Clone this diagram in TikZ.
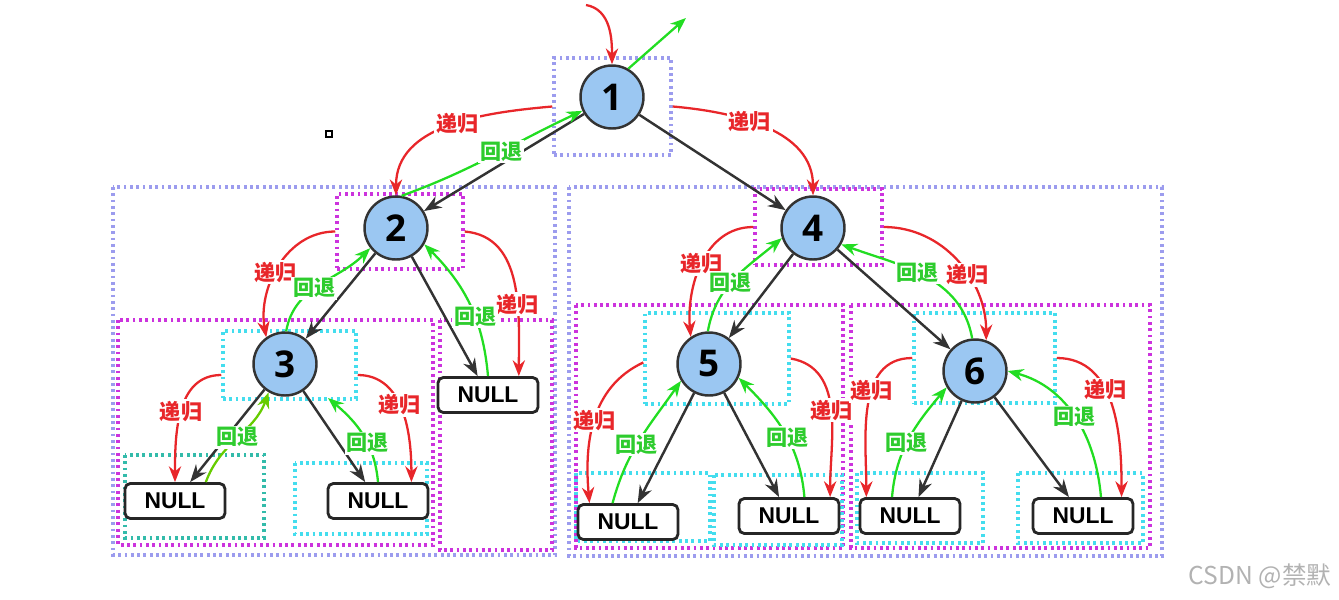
\documentclass[tikz,border=0pt]{standalone}
\usepackage{fontspec}
\setmainfont{Liberation Sans}
\newfontfamily\cjk{Noto Sans CJK SC}
\newfontfamily\numfont{Open Sans}
\usetikzlibrary{arrows.meta,calc}

\definecolor{treeblue}{HTML}{9BC7F2}
\definecolor{recred}{HTML}{E8262A}
\definecolor{backgreen}{HTML}{22DD22}
\definecolor{labgreen}{HTML}{2ECC2E}
\definecolor{olivegreen}{HTML}{66CC00}
\definecolor{lavcol}{HTML}{9C9CEE}
\definecolor{magcol}{HTML}{CC33DD}
\definecolor{cyancol}{HTML}{44DDEE}
\definecolor{tealcol}{HTML}{33BBAA}

\tikzset{
  tnode/.style={circle, draw=black!80, line width=1.4pt, fill=treeblue,
    minimum size=1.26cm, inner sep=0pt, font=\numfont\bfseries\fontsize{21}{21}\selectfont},
  nullbox/.style={rectangle, rounded corners=3pt, draw=black!85, line width=1.6pt,
    fill=white, minimum width=2cm, minimum height=0.7cm, inner sep=0pt,
    font=\bfseries\fontsize{13}{13}\selectfont},
  edge/.style={draw=black!80, line width=1.4pt, -{Stealth[length=10pt,width=7.5pt]}},
  rec/.style={draw=recred, line width=1.3pt, -{Stealth[length=9pt,width=7pt]}},
  back/.style={draw=backgreen, line width=1.3pt, -{Stealth[length=9pt,width=7pt]}},
  rlab/.style={fill=white, inner sep=1pt, text=recred, font=\cjk\bfseries\fontsize{12}{12}\selectfont},
  blab/.style={fill=white, inner sep=1pt, text=labgreen, font=\cjk\bfseries\fontsize{12}{12}\selectfont},
  lavbox/.style={draw=lavcol, line width=2pt, dash pattern=on 1.6pt off 2pt, inner sep=0pt},
  magbox/.style={draw=magcol, line width=2pt, dash pattern=on 1.6pt off 2pt, inner sep=0pt},
  cyanbox/.style={draw=cyancol, line width=2pt, dash pattern=on 1.6pt off 2pt, inner sep=0pt},
  tealbox/.style={draw=tealcol, line width=2pt, dash pattern=on 1.6pt off 2pt, inner sep=0pt}
}

\begin{document}
\begin{tikzpicture}[x=0.02cm,y=0.02cm]
    \useasboundingbox (0,0) rectangle (1339,-599);
    % outer frames
    \draw[lavbox] (113,-187) rectangle (555,-555);
    \draw[lavbox] (569,-187) rectangle (1162,-556);
    \draw[magbox] (118,-320) rectangle (433,-545);
    \draw[magbox] (440,-320) rectangle (552,-550);
    \draw[magbox] (576,-305) rectangle (843,-548);
    \draw[magbox] (851,-305) rectangle (1150,-548);
    % frames round the leaves
    \draw[tealbox] (125,-455) rectangle (264,-538);
    \draw[cyanbox] (295,-463) rectangle (427,-534);
    \draw[cyanbox] (576,-473) rectangle (710,-541);
    \draw[cyanbox] (714,-475) rectangle (842,-545);
    \draw[cyanbox] (857,-473) rectangle (983,-543);
    \draw[cyanbox] (1018,-473) rectangle (1143,-543);
    % frames round the tree nodes
    \node[lavbox, minimum width=2.34cm, minimum height=1.94cm] (f1) at (612.5,-106.5) {};
    \node[magbox, minimum width=2.52cm, minimum height=1.5cm] (f2) at (400,-231.5) {};
    \node[cyanbox, minimum width=2.66cm, minimum height=1.36cm] (f3) at (289.5,-365) {};
    \node[magbox, minimum width=2.54cm, minimum height=1.52cm] (f4) at (818.5,-227) {};
    \node[cyanbox, minimum width=2.88cm, minimum height=1.82cm] (f5) at (717,-358.5) {};
    \node[cyanbox, minimum width=2.82cm, minimum height=1.8cm] (f6) at (984.5,-358) {};

    % tree
    \node[tnode] (n1) at (612,-97) {1};
    \node[tnode] (n2) at (396,-228) {2};
    \node[tnode] (n3) at (285,-364) {3};
    \node[tnode] (n4) at (813,-228) {4};
    \node[tnode] (n5) at (709,-364) {5};
    \node[tnode] (n6) at (975,-371) {6};
    \node[nullbox] (z2) at (488,-395) {NULL};
    \node[nullbox] (z3a) at (175,-501) {NULL};
    \node[nullbox] (z3b) at (378,-501) {NULL};
    \node[nullbox] (z5a) at (628,-522) {NULL};
    \node[nullbox] (z5b) at (789,-516) {NULL};
    \node[nullbox] (z6a) at (910,-516) {NULL};
    \node[nullbox] (z6b) at (1083,-516) {NULL};

    \foreach \a/\b in {n1/n2,n1/n4,n2/n3,n2/z2,n3/z3a,n3/z3b,n4/n5,n4/n6,n5/z5a,n5/z5b,n6/z6a,n6/z6b}{
        \draw[edge] (\a) -- (\b);
    };

    % way in and out at the root
    \coordinate (in0) at (586,-5);
    \coordinate (out0) at (686,-18);
    \draw[rec] (in0) to[out=-10,in=90] (n1.north);
    \draw[back] (n1.60) -- (out0);

    % 1 <-> 2, 1 -> 4
    \draw[rec] (f1.west) to[out=185,in=90] node[rlab,pos=.45]{递归} (n2.north);
    \draw[back] (n2.80) to[out=20,in=205] node[blab,pos=.55]{回退} (n1.205);
    \draw[rec] (f1.east) to[out=-5,in=90] node[rlab,pos=.4]{递归} (n4.north);

    % 2 <-> 3, 2 <-> NULL
    \draw[rec] (f2.west) to[out=180,in=100] node[rlab,pos=.55]{递归} (n3.125);
    \draw[back] (n3.88) to[out=80,in=225] node[blab,pos=.45]{回退} (n2.218);
    \draw[rec] (f2.east) to[out=-5,in=90] node[rlab,pos=.62]{递归} ($(z2.north)!.6!(z2.north east)$);
    \draw[back] (z2.north) to[out=95,in=-45] node[blab,pos=.4]{回退} (n2.-30);

    % 3 <-> its NULLs
    \draw[rec] ($(f3.west)+(0,-10)$) to[out=180,in=90] node[rlab,pos=.5]{递归} (z3a.north);
    \draw[draw=olivegreen, line width=1.3pt, -{Stealth[length=9pt,width=7pt]}]
        ($(z3a.north)!.6!(z3a.north east)$) to[out=70,in=-110] node[blab,pos=.5]{回退} (n3.240);
    \draw[rec] ($(f3.east)+(0,-10)$) to[out=0,in=90] node[rlab,pos=.45]{递归} ($(z3b.north)!.65!(z3b.north east)$);
    \draw[back] (z3b.north) to[out=95,in=-40] node[blab,pos=.4]{回退} ($(n3)+(43,-34)$);

    % 4 <-> 5, 4 <-> 6
    \draw[rec] (f4.west) to[out=180,in=95] node[rlab,pos=.5]{递归} (n5.124);
    \draw[back] (n5.92) to[out=80,in=220] node[blab,pos=.45]{回退} (n4.198);
    \draw[rec] (f4.east) to[out=0,in=90] node[rlab,pos=.6]{递归} (n6.70);
    \draw[back] (n6.95) to[out=100,in=-20] node[blab,pos=.55]{回退} (n4.-30);

    % 5 <-> its NULLs
    \draw[rec] ($(f5.west)+(0,-4)$) to[out=205,in=95] node[rlab,pos=.5]{递归} ($(z5a.north)!.75!(z5a.north west)$);
    \draw[back] ($(z5a.north)!.3!(z5a.north west)$) to[out=75,in=235] node[blab,pos=.45]{回退} (n5.211);
    \draw[rec] (f5.east) to[out=-10,in=90] node[rlab,pos=.5]{递归} ($(z5b.north)!.8!(z5b.north east)$);
    \draw[back] ($(z5b.north)!.3!(z5b.north east)$) to[out=95,in=-45] node[blab,pos=.45]{回退} (n5.-25);

    % 6 <-> its NULLs
    \draw[rec] (f6.west) to[out=180,in=90] node[rlab,pos=.4]{递归} ($(z6a.north)!.85!(z6a.north west)$);
    \draw[back] ($(z6a.north)!.35!(z6a.north west)$) to[out=85,in=230] node[blab,pos=.45]{回退} (n6.210);
    \draw[rec] (f6.east) to[out=0,in=90] node[rlab,pos=.4]{递归} ($(z6b.north)!.75!(z6b.north east)$);
    \draw[back] ($(z6b.north)!.35!(z6b.north east)$) to[out=95,in=-15] node[blab,pos=.5]{回退} (n6.0);

    % small mark and watermark
    \draw[line width=0.6pt] (326,-131) rectangle (332,-137);
    \node[text=black!30, font=\cjk\fontsize{14}{14}\selectfont] (wm) at (1260,-576) {CSDN @禁默};
\end{tikzpicture}
\end{document}
